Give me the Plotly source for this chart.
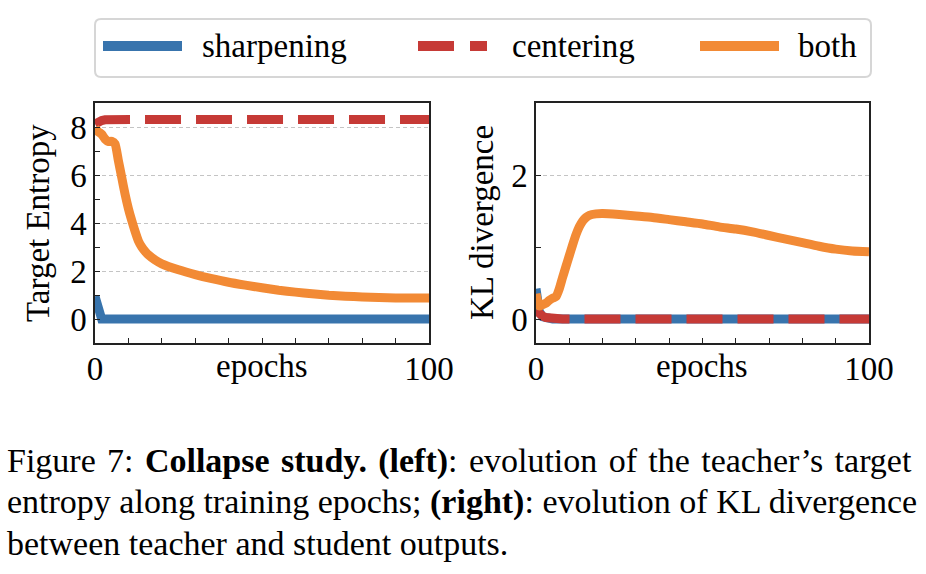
import plotly.graph_objects as go

# ---------------- data ----------------
epochs = [0, 1, 2, 3, 4, 5, 6, 7, 8, 9, 10, 11, 12, 13, 14, 15, 16, 18, 20,
          25, 30, 35, 40, 45, 50, 55, 60, 65, 70, 75, 80, 85, 90, 95, 100]

entropy_sharpening = [0.95, 0.3, 0.0, 0.0, 0.0, 0.0, 0.0, 0.0, 0.0, 0.0, 0.0, 0.0, 0.0, 0.0, 0.0,
                      0.0, 0.0, 0.0, 0.0, 0.0, 0.0, 0.0, 0.0, 0.0, 0.0, 0.0, 0.0, 0.0, 0.0, 0.0,
                      0.0, 0.0, 0.0, 0.0, 0.0]
entropy_centering = [8.12, 8.22, 8.27, 8.3, 8.31, 8.31, 8.31, 8.31, 8.31, 8.31, 8.31, 8.31, 8.31,
                     8.31, 8.31, 8.31, 8.31, 8.31, 8.31, 8.31, 8.31, 8.31, 8.31, 8.31, 8.31, 8.31,
                     8.31, 8.31, 8.31, 8.31, 8.31, 8.31, 8.31, 8.31, 8.31]
entropy_both = [7.95, 7.8, 7.7, 7.5, 7.4, 7.4, 7.3, 6.6, 5.9, 5.2, 4.6, 4.1, 3.65, 3.25, 3.0,
                2.82, 2.67, 2.46, 2.3, 2.05, 1.85, 1.68, 1.53, 1.41, 1.3, 1.2, 1.12, 1.05, 0.99,
                0.95, 0.92, 0.9, 0.88, 0.87, 0.87]

kl_sharpening = [0.42, 0.1, 0.03, 0.01, 0.0, 0.0, 0.0, 0.0, 0.0, 0.0, 0.0, 0.0, 0.0, 0.0, 0.0,
                 0.0, 0.0, 0.0, 0.0, 0.0, 0.0, 0.0, 0.0, 0.0, 0.0, 0.0, 0.0, 0.0, 0.0, 0.0,
                 0.0, 0.0, 0.0, 0.0, 0.0]
kl_centering = [0.12, 0.07, 0.04, 0.02, 0.01, 0.0, 0.0, 0.0, 0.0, 0.0, 0.0, 0.0, 0.0, 0.0, 0.0,
                0.0, 0.0, 0.0, 0.0, 0.0, 0.0, 0.0, 0.0, 0.0, 0.0, 0.0, 0.0, 0.0, 0.0, 0.0,
                0.0, 0.0, 0.0, 0.0, 0.0]
kl_both = [0.35, 0.18, 0.2, 0.22, 0.26, 0.29, 0.31, 0.42, 0.58, 0.73, 0.88, 1.03, 1.17, 1.28,
           1.36, 1.41, 1.44, 1.46, 1.465, 1.45, 1.43, 1.41, 1.38, 1.35, 1.32, 1.28, 1.25,
           1.21, 1.16, 1.11, 1.06, 1.01, 0.97, 0.945, 0.935]

series_names = ["sharpening", "centering", "both"]
x_tick_vals = [0, 10, 20, 30, 40, 50, 60, 70, 80, 90, 100]
x_tick_text = ["0", "", "", "", "", "", "", "", "", "", "100"]
left_y_ticks = [0, 2, 4, 6, 8]
left_y_minor = [1, 3, 5, 7]
right_y_ticks = [0, 2]
right_y_minor = [1]

HS = " \u200a"  # word gap widened by a hair space to approximate the justified first line
caption_lines = [
    "Figure" + HS + "7:" + HS + "<b>Collapse" + HS + "study." + HS + "(left)</b>:" + HS
    + "evolution" + HS + "of" + HS + "the" + HS + "teacher\u2019s" + HS + "target",
    "entropy along training epochs; <b>(right)</b>: evolution of KL divergence",
    "between teacher and student outputs.",
]

# ---------------- styling ----------------
W, H = 926, 574
FONT = "Liberation Serif, Times New Roman, serif"
BLUE = "#3874ad"
RED = "#c63a36"
ORANGE = "#f28a35"
LW = 9
DASH = "36px,15px"


def px(x):
    return x / W


def py(y):
    return 1 - y / H


fig = go.Figure()

styles = {
    "sharpening": dict(color=BLUE, width=LW),
    "centering": dict(color=RED, width=LW, dash=DASH),
    "both": dict(color=ORANGE, width=LW, shape="spline", smoothing=0.5),
}

left = {"sharpening": entropy_sharpening, "centering": entropy_centering, "both": entropy_both}
right = {"sharpening": kl_sharpening, "centering": kl_centering, "both": kl_both}

for name in series_names:
    fig.add_trace(go.Scatter(x=epochs, y=left[name], mode="lines", name=name,
                             line=styles[name], xaxis="x", yaxis="y", showlegend=False))
for name in series_names:
    fig.add_trace(go.Scatter(x=epochs, y=right[name], mode="lines", name=name,
                             line=styles[name], xaxis="x2", yaxis="y2", showlegend=False))

axis_common = dict(showline=True, mirror=True, linecolor="#222222", linewidth=1.5,
                   zeroline=False, ticks="inside", tickcolor="#222222", ticklen=5,
                   tickwidth=1.2, automargin=False,
                   tickfont=dict(family=FONT, size=33, color="black"))

gridstyle = dict(showgrid=True, gridcolor="#c4c4c4", griddash="4px,3px", gridwidth=1)

fig.update_layout(
    width=W, height=H, autosize=False, showlegend=False,
    margin=dict(l=0, r=0, t=0, b=0, pad=0, autoexpand=False),
    paper_bgcolor="white", plot_bgcolor="white",
    font=dict(family=FONT, size=33, color="black"),
    xaxis=dict(domain=[px(95), px(429)], range=[0, 100], anchor="y",
               tickvals=x_tick_vals, ticktext=x_tick_text, showgrid=False,
               ticklabelstandoff=-4, **axis_common),
    yaxis=dict(domain=[py(343), py(103)], range=[-1, 9], anchor="x",
               tickvals=left_y_ticks,
               minor=dict(tickvals=left_y_minor, ticks="inside", ticklen=5,
                          tickcolor="#222222", showgrid=False),
               **gridstyle, **axis_common),
    xaxis2=dict(domain=[px(536), px(869)], range=[0, 100], anchor="y2",
                tickvals=x_tick_vals, ticktext=x_tick_text, showgrid=False,
                ticklabelstandoff=-4, **axis_common),
    yaxis2=dict(domain=[py(343), py(103)], range=[-1 / 3, 3], anchor="x2",
                tickvals=right_y_ticks,
                minor=dict(tickvals=right_y_minor, ticks="inside", ticklen=5,
                           tickcolor="#222222", showgrid=False),
                **gridstyle, **axis_common),
)

annotations = []
# axis titles
annotations.append(dict(text="Target Entropy", x=px(38), y=py(223), xref="paper", yref="paper",
                        textangle=-90, showarrow=False, font=dict(family=FONT, size=33),
                        xanchor="center", yanchor="middle"))
annotations.append(dict(text="KL divergence", x=px(482), y=py(222), xref="paper", yref="paper",
                        textangle=-90, showarrow=False, font=dict(family=FONT, size=33),
                        xanchor="center", yanchor="middle"))
for cx in (262, 702):
    annotations.append(dict(text="epochs", x=px(cx), y=py(366), xref="paper", yref="paper",
                            showarrow=False, font=dict(family=FONT, size=33),
                            xanchor="center", yanchor="middle"))

# legend (drawn manually to match the long handles)
shapes = []
x0, x1, y0, y1, r = 95, 871, 19, 77, 6
path = (f"M {px(x0 + r)},{py(y0)} L {px(x1 - r)},{py(y0)} "
        f"Q {px(x1)},{py(y0)} {px(x1)},{py(y0 + r)} L {px(x1)},{py(y1 - r)} "
        f"Q {px(x1)},{py(y1)} {px(x1 - r)},{py(y1)} L {px(x0 + r)},{py(y1)} "
        f"Q {px(x0)},{py(y1)} {px(x0)},{py(y1 - r)} L {px(x0)},{py(y0 + r)} "
        f"Q {px(x0)},{py(y0)} {px(x0 + r)},{py(y0)} Z")
shapes.append(dict(type="path", path=path, xref="paper", yref="paper",
                   line=dict(color="#d6d6d6", width=2), fillcolor="white", layer="above"))

legend_items = [("sharpening", 103, 182, 200), ("centering", 418, 487, 510), ("both", 700, 779, 796)]
for name, lx0, lx1, tx in legend_items:
    st = styles[name]
    shapes.append(dict(type="line", xref="paper", yref="paper", x0=px(lx0), x1=px(lx1),
                       y0=py(46), y1=py(46), layer="above",
                       line=dict(color=st["color"], width=10,
                                 dash="36px,16px" if name == "centering" else "solid")))
    annotations.append(dict(text=name, x=px(tx), y=py(46), xref="paper", yref="paper",
                            showarrow=False, font=dict(family=FONT, size=33),
                            xanchor="left", yanchor="middle"))

# caption
for i, line in enumerate(caption_lines):
    annotations.append(dict(text=line, x=px(5), y=py(461 + 41 * i), xref="paper", yref="paper",
                            showarrow=False, font=dict(family=FONT, size=34, color="black"),
                            xanchor="left", yanchor="middle", align="left"))

fig.update_layout(annotations=annotations, shapes=shapes)

fig.write_html("out.html", config={"displayModeBar": False},
               post_script="document.body.style.margin='0';document.body.style.overflow='hidden';")
